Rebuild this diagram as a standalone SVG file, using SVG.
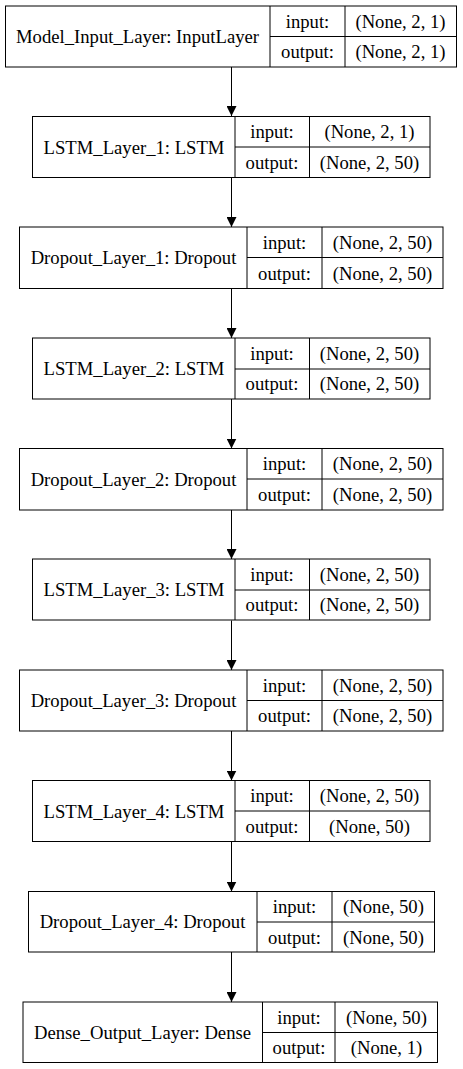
<svg xmlns="http://www.w3.org/2000/svg" width="463" height="1069" viewBox="0 0 463 1069">
<style>
.b{fill:#fff;stroke:#000;stroke-width:1}
.l{stroke:#000;stroke-width:1;fill:none}
text{font-family:"Liberation Serif","Times New Roman",serif;font-size:18.67px;fill:#000;text-anchor:middle}
.e{stroke:#000;stroke-width:1;fill:none}
</style>
<defs>
<marker id="ah" markerWidth="10" markerHeight="10" refX="10" refY="5" orient="auto" markerUnits="userSpaceOnUse">
<path d="M0,0 L10,5 L0,10 z" fill="#000"/>
</marker>
</defs>
<rect width="463" height="1069" fill="#fff"/>
<g id="connectors">
<line class="e" x1="231.5" y1="67" x2="231.5" y2="116" marker-end="url(#ah)"/>
<line class="e" x1="231.5" y1="178" x2="231.5" y2="227" marker-end="url(#ah)"/>
<line class="e" x1="231.5" y1="289" x2="231.5" y2="338" marker-end="url(#ah)"/>
<line class="e" x1="231.5" y1="399" x2="231.5" y2="448.5" marker-end="url(#ah)"/>
<line class="e" x1="231.5" y1="510" x2="231.5" y2="559" marker-end="url(#ah)"/>
<line class="e" x1="231.5" y1="620.5" x2="231.5" y2="670" marker-end="url(#ah)"/>
<line class="e" x1="231.5" y1="731" x2="231.5" y2="780.5" marker-end="url(#ah)"/>
<line class="e" x1="231.5" y1="842" x2="231.5" y2="891.5" marker-end="url(#ah)"/>
<line class="e" x1="231.5" y1="952" x2="231.5" y2="1002" marker-end="url(#ah)"/>
</g>
<g id="node1">
<rect class="b" x="5.5" y="6" width="451" height="61"/>
<line class="l" x1="270" y1="6" x2="270" y2="67"/>
<line class="l" x1="345" y1="6" x2="345" y2="67"/>
<line class="l" x1="270" y1="36.5" x2="456.5" y2="36.5"/>
<text x="137.5" y="43">Model_Input_Layer: InputLayer</text>
<text x="307.5" y="27.5">input:</text>
<text x="307.5" y="58">output:</text>
<text x="400.5" y="27.5">(None, 2, 1)</text>
<text x="400.5" y="58">(None, 2, 1)</text>
</g>
<g id="node2">
<rect class="b" x="32.5" y="116.5" width="397.5" height="61"/>
<line class="l" x1="235" y1="116.5" x2="235" y2="177.5"/>
<line class="l" x1="309.5" y1="116.5" x2="309.5" y2="177.5"/>
<line class="l" x1="235" y1="147" x2="430" y2="147"/>
<text x="134" y="153.5">LSTM_Layer_1: LSTM</text>
<text x="272" y="138">input:</text>
<text x="272" y="168.5">output:</text>
<text x="369.5" y="138">(None, 2, 1)</text>
<text x="369.5" y="168.5">(None, 2, 50)</text>
</g>
<g id="node3">
<rect class="b" x="19.5" y="227" width="423.5" height="61.5"/>
<line class="l" x1="247" y1="227" x2="247" y2="288.5"/>
<line class="l" x1="322" y1="227" x2="322" y2="288.5"/>
<line class="l" x1="247" y1="257.5" x2="443" y2="257.5"/>
<text x="133.5" y="264">Dropout_Layer_1: Dropout</text>
<text x="284.5" y="248.5">input:</text>
<text x="284.5" y="279.5">output:</text>
<text x="382.5" y="248.5">(None, 2, 50)</text>
<text x="382.5" y="279.5">(None, 2, 50)</text>
</g>
<g id="node4">
<rect class="b" x="32.5" y="338" width="397.5" height="61"/>
<line class="l" x1="235" y1="338" x2="235" y2="399"/>
<line class="l" x1="309.5" y1="338" x2="309.5" y2="399"/>
<line class="l" x1="235" y1="369" x2="430" y2="369"/>
<text x="134" y="375">LSTM_Layer_2: LSTM</text>
<text x="272" y="359.5">input:</text>
<text x="272" y="390">output:</text>
<text x="369.5" y="359.5">(None, 2, 50)</text>
<text x="369.5" y="390">(None, 2, 50)</text>
</g>
<g id="node5">
<rect class="b" x="19.5" y="448.5" width="423.5" height="61.5"/>
<line class="l" x1="247" y1="448.5" x2="247" y2="510"/>
<line class="l" x1="322" y1="448.5" x2="322" y2="510"/>
<line class="l" x1="247" y1="479" x2="443" y2="479"/>
<text x="133.5" y="485.5">Dropout_Layer_2: Dropout</text>
<text x="284.5" y="470">input:</text>
<text x="284.5" y="501">output:</text>
<text x="382.5" y="470">(None, 2, 50)</text>
<text x="382.5" y="501">(None, 2, 50)</text>
</g>
<g id="node6">
<rect class="b" x="32.5" y="559" width="397.5" height="61"/>
<line class="l" x1="235" y1="559" x2="235" y2="620"/>
<line class="l" x1="309.5" y1="559" x2="309.5" y2="620"/>
<line class="l" x1="235" y1="590" x2="430" y2="590"/>
<text x="134" y="596">LSTM_Layer_3: LSTM</text>
<text x="272" y="580.5">input:</text>
<text x="272" y="611">output:</text>
<text x="369.5" y="580.5">(None, 2, 50)</text>
<text x="369.5" y="611">(None, 2, 50)</text>
</g>
<g id="node7">
<rect class="b" x="19.5" y="670" width="423.5" height="61"/>
<line class="l" x1="247" y1="670" x2="247" y2="731"/>
<line class="l" x1="322" y1="670" x2="322" y2="731"/>
<line class="l" x1="247" y1="700.5" x2="443" y2="700.5"/>
<text x="133.5" y="707">Dropout_Layer_3: Dropout</text>
<text x="284.5" y="691.5">input:</text>
<text x="284.5" y="722">output:</text>
<text x="382.5" y="691.5">(None, 2, 50)</text>
<text x="382.5" y="722">(None, 2, 50)</text>
</g>
<g id="node8">
<rect class="b" x="32.5" y="780.5" width="397.5" height="61"/>
<line class="l" x1="235" y1="780.5" x2="235" y2="841.5"/>
<line class="l" x1="309.5" y1="780.5" x2="309.5" y2="841.5"/>
<line class="l" x1="235" y1="811" x2="430" y2="811"/>
<text x="134" y="817.5">LSTM_Layer_4: LSTM</text>
<text x="272" y="802">input:</text>
<text x="272" y="832.5">output:</text>
<text x="369.5" y="802">(None, 2, 50)</text>
<text x="369.5" y="832.5">(None, 50)</text>
</g>
<g id="node9">
<rect class="b" x="28.5" y="891.5" width="406" height="60.5"/>
<line class="l" x1="257" y1="891.5" x2="257" y2="952"/>
<line class="l" x1="332" y1="891.5" x2="332" y2="952"/>
<line class="l" x1="257" y1="922" x2="434.5" y2="922"/>
<text x="142.5" y="928">Dropout_Layer_4: Dropout</text>
<text x="294.5" y="913">input:</text>
<text x="294.5" y="943.5">output:</text>
<text x="383.5" y="913">(None, 50)</text>
<text x="383.5" y="943.5">(None, 50)</text>
</g>
<g id="node10">
<rect class="b" x="23" y="1002" width="414.5" height="60.5"/>
<line class="l" x1="262.5" y1="1002" x2="262.5" y2="1062.5"/>
<line class="l" x1="335" y1="1002" x2="335" y2="1062.5"/>
<line class="l" x1="262.5" y1="1032.5" x2="437.5" y2="1032.5"/>
<text x="142.5" y="1038.5">Dense_Output_Layer: Dense</text>
<text x="299" y="1023.5">input:</text>
<text x="299" y="1054">output:</text>
<text x="386.5" y="1023.5">(None, 50)</text>
<text x="386.5" y="1054">(None, 1)</text>
</g>
</svg>
